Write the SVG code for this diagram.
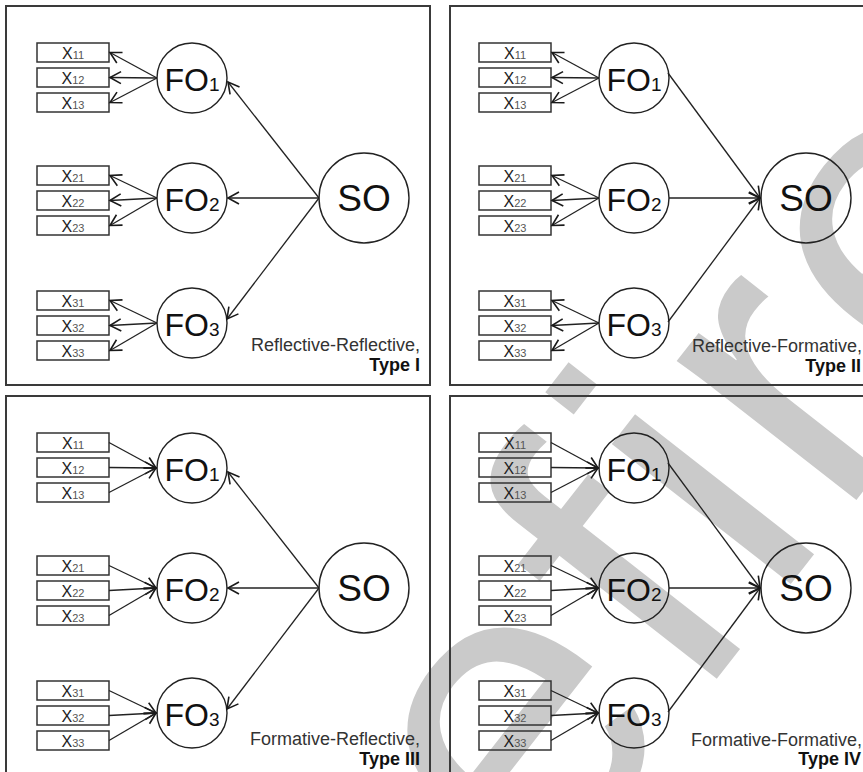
<svg xmlns="http://www.w3.org/2000/svg" width="863" height="772" viewBox="0 0 863 772">
<defs>
<style>
.panel{fill:none;stroke:#3a3a3a;stroke-width:2}
.box{fill:none;stroke:#333;stroke-width:1.5}
.fo{fill:none;stroke:#222;stroke-width:1.4}
.c{fill:none;stroke:#222;stroke-width:1.3;marker-end:url(#ah)}
.xl{font-family:"Liberation Sans",Arial,sans-serif;font-size:16px;fill:#222;text-anchor:middle}
.xs{font-size:11px;fill:#555}
.fl{font-family:"Liberation Sans",Arial,sans-serif;font-size:32px;fill:#111;text-anchor:middle}
.fs{font-size:19px}
.sl{font-family:"Liberation Sans",Arial,sans-serif;font-size:37px;fill:#111;text-anchor:middle}
.cap{font-family:"Liberation Sans",Arial,sans-serif;font-size:18px;fill:#333;text-anchor:end}
.typ{font-family:"Liberation Sans",Arial,sans-serif;font-size:18px;font-weight:bold;fill:#111;text-anchor:end}
.wm{font-family:"Liberation Sans",Arial,sans-serif;font-size:430px;fill:#cacaca;letter-spacing:10px}
</style>
<marker id="ah" markerWidth="16" markerHeight="16" refX="13" refY="8" orient="auto" markerUnits="userSpaceOnUse">
<path d="M2,2 L13,8 L2,14" fill="none" stroke="#1a1a1a" stroke-width="1.6"/>
</marker>
<g id="boxes">
<rect class="box" x="37" y="43" width="72" height="19"/>
<rect class="box" x="37" y="68" width="72" height="19"/>
<rect class="box" x="37" y="93" width="72" height="19"/>
<rect class="box" x="37" y="166" width="72" height="19"/>
<rect class="box" x="37" y="191" width="72" height="19"/>
<rect class="box" x="37" y="216" width="72" height="19"/>
<rect class="box" x="37" y="291" width="72" height="19"/>
<rect class="box" x="37" y="316" width="72" height="19"/>
<rect class="box" x="37" y="341" width="72" height="19"/>
<text class="xl" x="73" y="58.5">X<tspan class="xs">11</tspan></text>
<text class="xl" x="73" y="83.5">X<tspan class="xs">12</tspan></text>
<text class="xl" x="73" y="108.5">X<tspan class="xs">13</tspan></text>
<text class="xl" x="73" y="181.5">X<tspan class="xs">21</tspan></text>
<text class="xl" x="73" y="206.5">X<tspan class="xs">22</tspan></text>
<text class="xl" x="73" y="231.5">X<tspan class="xs">23</tspan></text>
<text class="xl" x="73" y="306.5">X<tspan class="xs">31</tspan></text>
<text class="xl" x="73" y="331.5">X<tspan class="xs">32</tspan></text>
<text class="xl" x="73" y="356.5">X<tspan class="xs">33</tspan></text>
</g>
<g id="fos">
<circle class="fo" cx="192" cy="78" r="35"/>
<circle class="fo" cx="192" cy="198" r="35"/>
<circle class="fo" cx="192" cy="323" r="35"/>
<circle class="fo" cx="364" cy="198" r="45"/>
<text class="fl" x="192" y="91">FO<tspan class="fs">1</tspan></text>
<text class="fl" x="192" y="211">FO<tspan class="fs">2</tspan></text>
<text class="fl" x="192" y="336">FO<tspan class="fs">3</tspan></text>
<text class="sl" x="364" y="211">SO</text>
</g>
<g id="refl">
<line class="c" x1="157" y1="78" x2="110" y2="52.5"/>
<line class="c" x1="157" y1="78" x2="110" y2="77.5"/>
<line class="c" x1="157" y1="78" x2="110" y2="102.5"/>
<line class="c" x1="157" y1="198" x2="110" y2="175.5"/>
<line class="c" x1="157" y1="198" x2="110" y2="200.5"/>
<line class="c" x1="157" y1="198" x2="110" y2="225.5"/>
<line class="c" x1="157" y1="323" x2="110" y2="300.5"/>
<line class="c" x1="157" y1="323" x2="110" y2="325.5"/>
<line class="c" x1="157" y1="323" x2="110" y2="350.5"/>
</g>
<g id="form">
<line class="c" x1="109" y1="52.5" x2="156" y2="78"/>
<line class="c" x1="109" y1="77.5" x2="156" y2="78"/>
<line class="c" x1="109" y1="102.5" x2="156" y2="78"/>
<line class="c" x1="109" y1="175.5" x2="156" y2="198"/>
<line class="c" x1="109" y1="200.5" x2="156" y2="198"/>
<line class="c" x1="109" y1="225.5" x2="156" y2="198"/>
<line class="c" x1="109" y1="300.5" x2="156" y2="323"/>
<line class="c" x1="109" y1="325.5" x2="156" y2="323"/>
<line class="c" x1="109" y1="350.5" x2="156" y2="323"/>
</g>
<g id="so-out">
<line class="c" x1="319" y1="198" x2="228" y2="82"/>
<line class="c" x1="319" y1="198" x2="228" y2="198"/>
<line class="c" x1="319" y1="198" x2="227" y2="319"/>
</g>
<g id="so-in">
<line class="c" x1="226" y1="73" x2="318" y2="198"/>
<line class="c" x1="227" y1="198" x2="318" y2="198"/>
<line class="c" x1="226" y1="322" x2="318" y2="198"/>
</g>
</defs>
<rect width="863" height="772" fill="#fff"/>
<text class="wm" transform="translate(540,905) rotate(-52)">efire</text>

<g id="panel-type-1">
<rect class="panel" x="6" y="6" width="424" height="379"/>
<use href="#boxes"/>
<use href="#fos"/>
<text class="cap" x="420" y="351">Reflective-Reflective,</text>
<text class="typ" x="420" y="371">Type I</text>
</g>
<g id="panel-type-2">
<rect class="panel" x="450" y="6" width="430" height="379"/>
<use href="#boxes" x="442"/>
<use href="#fos" x="442"/>
<text class="cap" x="862" y="352">Reflective-Formative,</text>
<text class="typ" x="861" y="372">Type II</text>
</g>
<g id="panel-type-3">
<rect class="panel" x="6" y="396" width="424" height="390"/>
<use href="#boxes" y="390"/>
<use href="#fos" y="390"/>
<text class="cap" x="420" y="745">Formative-Reflective,</text>
<text class="typ" x="420" y="765">Type III</text>
</g>
<g id="panel-type-4">
<rect class="panel" x="450" y="396" width="430" height="390"/>
<use href="#boxes" x="442" y="390"/>
<use href="#fos" x="442" y="390"/>
<text class="cap" x="862" y="746">Formative-Formative,</text>
<text class="typ" x="861" y="765">Type IV</text>
</g>
<g id="connectors">
<use href="#refl"/>
<use href="#so-out"/>
<use href="#refl" x="442"/>
<use href="#so-in" x="442"/>
<use href="#form" y="390"/>
<use href="#so-out" y="390"/>
<use href="#form" x="442" y="390"/>
<use href="#so-in" x="442" y="390"/>
</g>
</svg>
